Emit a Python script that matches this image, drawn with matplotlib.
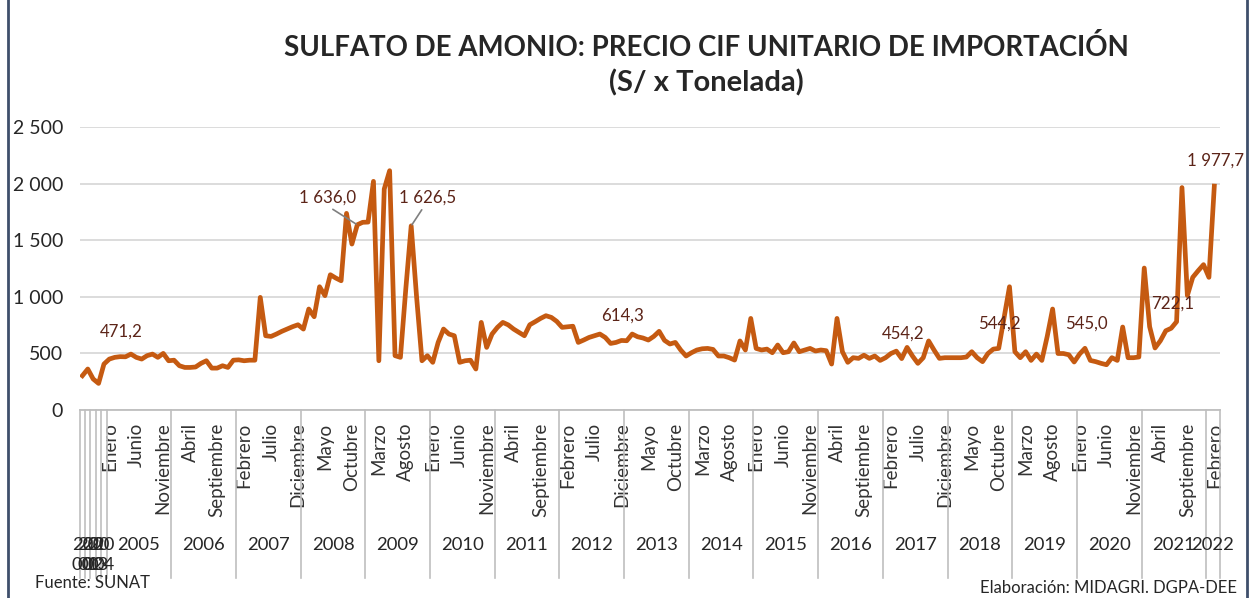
import matplotlib.pyplot as plt
import matplotlib.transforms as mtransforms
from matplotlib.lines import Line2D

plt.rcParams['font.family'] = ['Lato', 'DejaVu Sans']

# Data (S/ per tonne)
early_years = ["2000", "2001", "2002", "2003", "2004"]
early_values = [303, 362, 274, 235, 406]

years = ["2005", "2006", "2007", "2008", "2009", "2010", "2011", "2012", "2013",
         "2014", "2015", "2016", "2017", "2018", "2019", "2020", "2021", "2022"]
months = ["Enero", "Febrero", "Marzo", "Abril", "Mayo", "Junio", "Julio",
          "Agosto", "Septiembre", "Octubre", "Noviembre", "Diciembre"]

v2005 = [450, 465, 471.2, 470, 494, 465, 450, 480, 494, 465, 500, 435]
v2006 = [440, 391, 376, 376, 380, 412, 435, 370, 370, 391, 376, 440]
v2007 = [443, 435, 440, 440, 995, 656, 650, 671, 695, 715, 736, 753]
v2008 = [715, 892, 824, 1089, 1010, 1195, 1166, 1142, 1737, 1466, 1636.0, 1658]
v2009 = [1660, 2020, 435, 1952, 2114, 480, 465, 1070, 1626.5, 1000, 435, 480]
v2010 = [421, 597, 715, 671, 656, 421, 435, 440, 362, 774, 553, 671]
v2011 = [730, 774, 752, 715, 686, 656, 753, 780, 809, 833, 818, 783]
v2012 = [730, 735, 740, 597, 618, 641, 656, 671, 641, 588, 597, 614.3]
v2013 = [612, 671, 647, 636, 618, 650, 695, 615, 583, 597, 530, 477]
v2014 = [506, 530, 541, 544, 535, 477, 477, 462, 441, 610, 530, 809]
v2015 = [544, 530, 538, 506, 574, 506, 515, 592, 515, 530, 544, 521]
v2016 = [530, 524, 406, 809, 515, 421, 462, 456, 484, 456, 477, 438]
v2017 = [462, 499, 520, 454.2, 553, 477, 412, 462, 610, 530, 456, 462]
v2018 = [462, 462, 462, 468, 515, 462, 427, 499, 538, 544.2, 818, 1089]
v2019 = [515, 462, 515, 438, 494, 438, 650, 892, 499, 499, 488, 424]
v2020 = [494, 545.0, 438, 427, 412, 400, 462, 438, 733, 462, 462, 468]
v2021 = [1254, 736, 548, 612, 700, 722.1, 780, 1965, 1011, 1172, 1230, 1284]
v2022 = [1172, 1977.7]

monthly = [v2005, v2006, v2007, v2008, v2009, v2010, v2011, v2012, v2013,
           v2014, v2015, v2016, v2017, v2018, v2019, v2020, v2021, v2022]

# points that carry a data label
label_idx = [7, 51, 61, 100, 152, 170, 186, 202, 210]

values = list(early_values)
for vals in monthly:
    values += vals
n = len(values)
x = list(range(n))
n_early = len(early_values)

W, H = 1253, 598
fig = plt.figure(figsize=(W / 100, H / 100), dpi=100)
ax_left, ax_right, ax_top, ax_bot = 79.7, 1219.7, 127, 410
ax = fig.add_axes([ax_left / W, 1 - ax_bot / H, (ax_right - ax_left) / W, (ax_bot - ax_top) / H])

ax.plot(x, values, color='#c55a11', lw=3.4, solid_joinstyle='round', zorder=3)

ax.set_xlim(-0.5, 211.0)
ax.set_ylim(0, 2500)
ax.set_yticks(range(0, 2501, 500))
ax.set_yticklabels([f"{t:,}".replace(",", " ") for t in range(0, 2501, 500)],
                   fontsize=14, color='#262626')
ax.grid(axis='y', color='#d9d9d9', lw=1.3)
ax.set_axisbelow(True)
for s in ['top', 'right', 'left']:
    ax.spines[s].set_visible(False)
ax.spines['bottom'].set_color('#bfbfbf')
ax.spines['bottom'].set_linewidth(1.3)
ax.tick_params(axis='y', length=0, pad=12)

# month labels every 5 categories
tick_pos = list(range(5, n, 5))
tick_lbl = [months[(i - n_early) % 12] for i in tick_pos]
ax.set_xticks(tick_pos)
ax.set_xticklabels(tick_lbl, rotation=90, fontsize=13.5, color='#333333')
ax.tick_params(axis='x', length=0, pad=9)

trans = mtransforms.blended_transform_factory(ax.transData, ax.transAxes)
ax_h = ax_bot - ax_top
y_year = -(545 - ax_bot) / ax_h
y_year2 = -(565 - ax_bot) / ax_h
y_div = -(578 - ax_bot) / ax_h

# year-level labels and separators
dividers = [i - 0.5 for i in range(n_early + 1)]
for k, yr in enumerate(years):
    start = n_early + 12 * k - 0.5
    end = min(start + 12, 211.0)
    ax.text((start + end) / 2, y_year, yr, transform=trans, ha='center', va='center',
            fontsize=13.3, color='#262626')
    dividers.append(end)
for i, yr in enumerate(early_years):
    ax.text(i, y_year, yr[:2], transform=trans, ha='center', va='center', fontsize=13.3, color='#262626')
    ax.text(i, y_year2, yr[2:], transform=trans, ha='center', va='center', fontsize=13.3, color='#262626')
for d in dividers:
    ax.plot([d, d], [0, y_div], transform=trans, color='#bfbfbf', lw=1.2, clip_on=False)

# data labels
offsets = {51: (-30, 27), 61: (16, 28)}
for i in label_idx:
    txt = f"{values[i]:,.1f}".replace(",", " ").replace(".", ",")
    dx, dy = offsets.get(i, (1, 25))
    arrow = None
    if i in offsets:
        arrow = dict(arrowstyle='-', color='#7f7f7f', lw=1.2, shrinkA=1, shrinkB=1,
                     relpos=(0.5 if dx < 0 else 0.45, 0.0))
    ax.annotate(txt, xy=(i, values[i]), xytext=(dx, dy), textcoords='offset pixels',
                ha='center', va='center', fontsize=12.2, color='#5c2418',
                arrowprops=arrow, zorder=4)

fig.text(706 / W, 1 - 47 / H, "SULFATO DE AMONIO: PRECIO CIF UNITARIO DE IMPORTACIÓN",
         ha='center', va='center', fontsize=19.9, fontweight='bold', color='#262626')
fig.text(706 / W, 1 - 83 / H, "(S/ x Tonelada)",
         ha='center', va='center', fontsize=21, fontweight='bold', color='#262626')
fig.text(35 / W, 1 - 583 / H, "Fuente: SUNAT", ha='left', va='center', fontsize=12, color='#262626')
fig.text(1237 / W, 1 - 588 / H, "Elaboración: MIDAGRI. DGPA-DEE", ha='right', va='center',
         fontsize=12, color='#262626')

# outer frame
fig.add_artist(Line2D([8 / W, 8 / W], [0, 1], color='#3f4f6b', lw=2))
fig.add_artist(Line2D([1247 / W, 1247 / W], [0, 1], color='#3f4f6b', lw=2))

fig.savefig('out.png', dpi=100)
